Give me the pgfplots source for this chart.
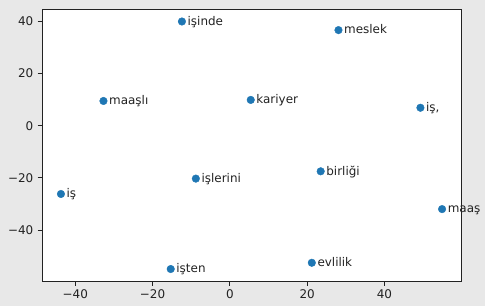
\documentclass[border=0pt]{standalone}
\usepackage{fontspec}
\setmainfont{DejaVu Sans}
\usepackage{pgfplots}
\usepackage{pgfplotstable}
\pgfplotsset{compat=1.18}
\definecolor{bg}{HTML}{E8E8E8}
\definecolor{pt}{HTML}{1F77B4}
\definecolor{ax}{HTML}{222222}
\pgfplotstableread{
x y label
-12.4 40.0 işinde
-32.7 9.5 maaşlı
28.1 36.7 meslek
5.4 9.9 kariyer
49.3 6.9 iş,
-43.7 -26.2 iş
-8.8 -20.3 işlerini
-15.3 -55.0 işten
23.5 -17.5 birliği
54.9 -32.0 maaş
21.2 -52.6 evlilik
}\words
\begin{document}
\fontsize{12}{14}\selectfont
\begin{tikzpicture}[x=1bp,y=1bp]
\fill[bg] (0,0) rectangle (485,306);
\begin{axis}[
  at={(42bp,25bp)}, anchor=south west,
  scale only axis, width=419bp, height=272bp,
  xmin=-48.6, xmax=59.8, ymin=-59.6, ymax=44.8,
  axis background/.style={fill=white},
  axis line style={ax, line width=0.8pt},
  tick style={ax, line width=0.8pt},
  tick align=outside, tick pos=left,
  major tick length=4.5bp,
  xtick={-40,-20,0,20,40}, xticklabels={−40,−20,0,20,40},
  ytick={-40,-20,0,20,40}, yticklabels={−40,−20,0,20,40},
  ticklabel style={font=\fontsize{12}{14}\selectfont, text=ax},
  clip=false,
  nodes near coords,
  point meta=explicit symbolic,
  every node near coord/.append style={anchor=base west, inner sep=0pt, xshift=5.5bp, yshift=-3.8bp, text=ax, font=\fontsize{12}{14}\selectfont},
]
\addplot[only marks, mark=*, mark size=3.8bp, color=pt, mark options={draw=pt, fill=pt}] table[x=x, y=y, meta=label] {\words};
\end{axis}
\pgfresetboundingbox
\path (0,0) rectangle (485,306);
\end{tikzpicture}
\end{document}
